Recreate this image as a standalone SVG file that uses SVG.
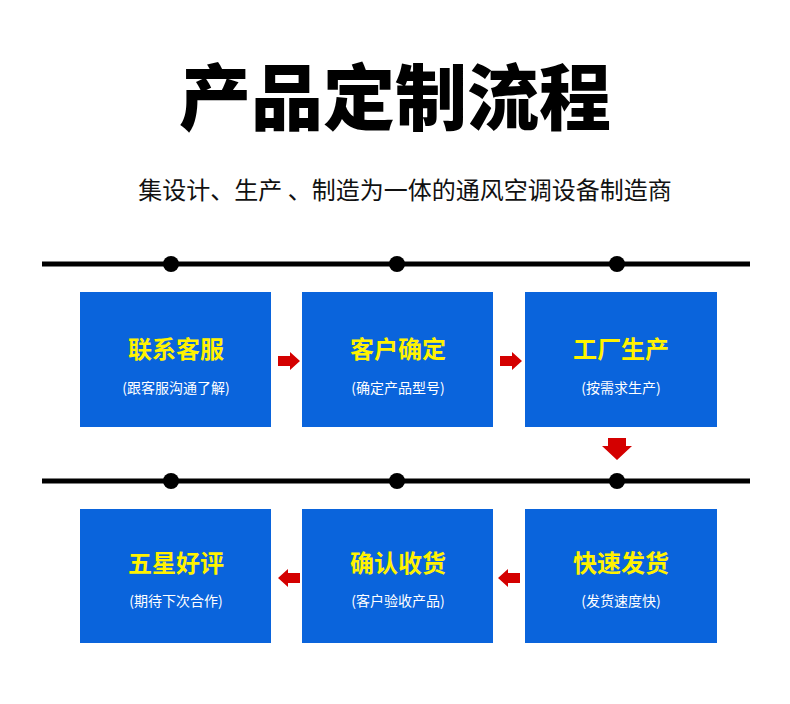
<svg xmlns="http://www.w3.org/2000/svg" width="790" height="704" viewBox="0 0 790 704">
<style>
.box{fill:#0a64dc}
.t{font-family:"Noto Sans CJK SC",sans-serif;font-weight:bold;font-size:24px;fill:#fff200;text-anchor:middle}
.s{font-family:"Noto Sans CJK SC",sans-serif;font-size:14px;fill:#fff;text-anchor:middle}
.ar{fill:#d40000}
</style>
<rect width="790" height="704" fill="#fff"/>
<text x="395" y="124" font-family="Noto Sans CJK SC,sans-serif" font-weight="900" font-size="72" text-anchor="middle" fill="#000">产品定制流程</text>
<text x="405" y="199" font-family="Noto Sans CJK SC,sans-serif" font-size="24" text-anchor="middle" fill="#111">集设计、生产 、制造为一体的通风空调设备制造商</text>
<g id="connectors">
<line x1="42" y1="264" x2="750" y2="264" stroke="#000" stroke-width="5"/>
<line x1="42" y1="481" x2="750" y2="481" stroke="#000" stroke-width="5"/>
<g fill="#000"><circle cx="171" cy="264" r="8"/><circle cx="397" cy="264" r="8"/><circle cx="617" cy="264" r="8"/><circle cx="171" cy="481" r="8"/><circle cx="397" cy="481" r="8"/><circle cx="617" cy="481" r="8"/></g>
<polygon class="ar" points="278,356 290,356 290,352 300,361 290,370 290,366 278,366"/>
<polygon class="ar" points="500,356 512,356 512,352 522,361 512,370 512,366 500,366"/>
<polygon class="ar" points="608,438 626,438 626,446 632,446 617,460 602,446 608,446"/>
<polygon class="ar" points="520,573 508,573 508,569 498,578 508,587 508,583 520,583"/>
<polygon class="ar" points="300,573 288,573 288,569 278,578 288,587 288,583 300,583"/>
</g>
<g id="n1"><rect class="box" x="80" y="292" width="191" height="135"/><text class="t" x="176" y="358">联系客服</text><text class="s" x="176" y="393">(跟客服沟通了解)</text></g>
<g id="n2"><rect class="box" x="302" y="292" width="191" height="135"/><text class="t" x="398" y="358">客户确定</text><text class="s" x="398" y="393">(确定产品型号)</text></g>
<g id="n3"><rect class="box" x="525" y="292" width="192" height="135"/><text class="t" x="621" y="358">工厂生产</text><text class="s" x="621" y="393">(按需求生产)</text></g>
<g id="n4"><rect class="box" x="525" y="509" width="192" height="134"/><text class="t" x="621" y="572">快速发货</text><text class="s" x="621" y="606">(发货速度快)</text></g>
<g id="n5"><rect class="box" x="302" y="509" width="191" height="134"/><text class="t" x="398" y="572">确认收货</text><text class="s" x="398" y="606">(客户验收产品)</text></g>
<g id="n6"><rect class="box" x="80" y="509" width="191" height="134"/><text class="t" x="176" y="572">五星好评</text><text class="s" x="176" y="606">(期待下次合作)</text></g>
</svg>
